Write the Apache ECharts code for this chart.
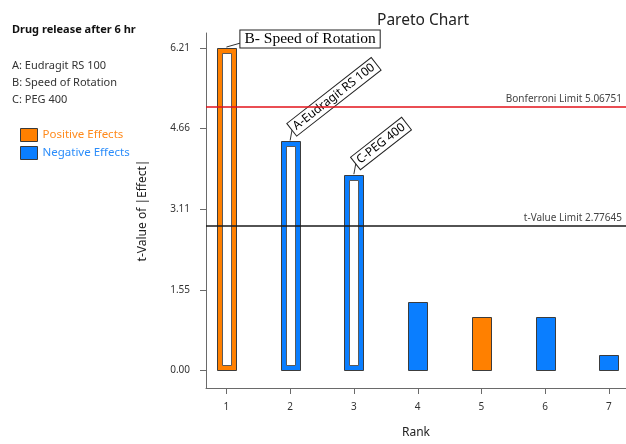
<!DOCTYPE html>
<html>
<head>
<meta charset="utf-8">
<script src="https://cdn.jsdelivr.net/npm/echarts@6/dist/echarts.min.js"></script>
<style>
  html, body { margin: 0; padding: 0; background: #fff; }
  #chart { width: 626px; height: 444px; }
</style>
</head>
<body>
<div id="chart"></div>
<script>
// Pareto chart of standardized effects (t-values), ranked by magnitude
const ranks = [1, 2, 3, 4, 5, 6, 7];
const tValues = [6.21, 4.41, 3.76, 1.31, 1.03, 1.03, 0.30];
const effectSigns = ['positive', 'negative', 'negative', 'negative', 'positive', 'negative', 'negative'];
const termLabels = ['B- Speed of Rotation', 'A-Eudragit RS 100', 'C-PEG 400', '', '', '', ''];
const yTickValues = [0, 1.55, 3.11, 4.66, 6.21];
const limitNames = ['Bonferroni Limit', 't-Value Limit'];
const limitValues = [5.06751, 2.77645];
const responseTitle = 'Drug release after 6 hr';
const factorLines = ['A: Eudragit RS 100', 'B: Speed of Rotation', 'C: PEG 400'];
const seriesNames = ['Positive Effects', 'Negative Effects'];

const X_MIN = 0.68, X_MAX = 7.27;
const Y_MIN = -0.34, Y_MAX = 6.5;

const ORANGE = '#FF8000';
const BLUE = '#0A7EFF';
const AXIS_GREY = '#6a6a6a';
const FONT = '"Noto Sans", "Open Sans", sans-serif';

function seriesData(sign) {
  const out = [];
  ranks.forEach((r, i) => { if (effectSigns[i] === sign) out.push([r, tValues[i]]); });
  return out;
}

function barRenderer(color) {
  return function (params, api) {
    const rank = api.value(0);
    const val = api.value(1);
    const top = api.coord([rank, val]);
    const base = api.coord([rank, 0]);
    const w = 19;
    const cx = top[0];
    const x0 = Math.round(cx - w / 2) + 0.5;
    const y0 = Math.round(top[1]) + 0.5;
    const y1 = Math.round(base[1]) + 0.5;
    const children = [{
      type: 'rect',
      shape: { x: x0, y: y0, width: w, height: y1 - y0 },
      style: { fill: color, stroke: '#3c3c3c', lineWidth: 1 }
    }];
    const idx = ranks.indexOf(rank);
    const label = termLabels[idx];
    if (label) {
      // significant terms are drawn hollow and annotated
      children.push({
        type: 'rect',
        shape: { x: x0 + 5, y: y0 + 5, width: w - 10, height: y1 - y0 - 10 },
        style: { fill: '#fff', stroke: '#5a5a5a', lineWidth: 1 }
      });
      const horizontal = idx === 0;
      const ax = horizontal ? cx + 14 : cx + 2;
      const ay = horizontal ? top[1] - 9 : top[1] - 12;
      children.push({
        type: 'line',
        shape: { x1: cx, y1: top[1] - 1, x2: ax, y2: horizontal ? top[1] - 5 : ay },
        style: { stroke: '#333', lineWidth: 1 }
      });
      children.push({
        type: 'text',
        x: ax,
        y: ay,
        rotation: horizontal ? 0 : 38 * Math.PI / 180,
        style: {
          text: label,
          align: 'left',
          verticalAlign: 'middle',
          font: horizontal ? '15.5px "Liberation Serif", "DejaVu Serif", serif' : '12px ' + FONT,
          fill: '#000',
          backgroundColor: '#fff',
          borderColor: '#222',
          borderWidth: 1,
          padding: horizontal ? [1, 4, 0, 4] : [2, 3, 1, 3]
        }
      });
    }
    return { type: 'group', children: children };
  };
}

// outward tick marks on both axes
function xTickRenderer(params, api) {
  const p = api.coord([api.value(0), Y_MIN]);
  const x = Math.round(p[0]) + 0.5;
  return { type: 'line', shape: { x1: x, y1: p[1], x2: x, y2: p[1] + 6 }, style: { stroke: AXIS_GREY, lineWidth: 1 } };
}
function yTickRenderer(params, api) {
  const p = api.coord([X_MIN, api.value(1)]);
  const y = Math.round(p[1]) + 0.5;
  return { type: 'line', shape: { x1: p[0] - 6, y1: y, x2: p[0], y2: y }, style: { stroke: AXIS_GREY, lineWidth: 1 } };
}

const chart = echarts.init(document.getElementById('chart'), null, { renderer: 'canvas' });

chart.setOption({
  animation: false,
  backgroundColor: '#fff',
  title: {
    text: 'Pareto Chart',
    left: 418,
    top: 8,
    textAlign: 'center',
    textStyle: { fontFamily: FONT, fontSize: 15.5, fontWeight: 'normal', color: '#222' }
  },
  legend: {
    orient: 'vertical',
    left: 15,
    top: 123,
    itemWidth: 17,
    itemHeight: 13,
    itemGap: 4,
    icon: 'rect',
    itemStyle: { borderColor: '#3a3a3a', borderWidth: 1 },
    textStyle: { fontFamily: FONT, fontSize: 11.5 },
    data: [
      { name: seriesNames[0], textStyle: { color: '#FF8A1C' } },
      { name: seriesNames[1], textStyle: { color: '#2A8CFA' } }
    ]
  },
  graphic: [
    {
      type: 'text', left: 12, top: 24,
      style: { text: responseTitle, font: 'bold 11px ' + FONT, fill: '#111' }
    },
    {
      type: 'text', left: 12, top: 57,
      style: { text: factorLines.join('\n'), font: '11px ' + FONT, fill: '#333', lineHeight: 17 }
    }
  ],
  grid: { left: 206, right: 0, top: 33, bottom: 51 },
  xAxis: {
    type: 'value',
    min: X_MIN,
    max: X_MAX,
    name: 'Rank',
    nameLocation: 'middle',
    nameGap: 39,
    nameTextStyle: { fontFamily: FONT, fontSize: 12, color: '#222' },
    axisLine: { show: true, onZero: false, lineStyle: { color: AXIS_GREY, width: 1 } },
    axisTick: { show: false },
    axisLabel: { customValues: ranks, margin: 14, fontFamily: FONT, fontSize: 10, color: '#333' },
    splitLine: { show: false }
  },
  yAxis: {
    type: 'value',
    min: Y_MIN,
    max: Y_MAX,
    name: 't-Value of |Effect|',
    nameLocation: 'middle',
    nameGap: 57,
    nameTextStyle: { fontFamily: FONT, fontSize: 12, color: '#222' },
    axisLine: { show: true, onZero: false, lineStyle: { color: AXIS_GREY, width: 1 } },
    axisTick: { show: false },
    axisLabel: {
      customValues: yTickValues, margin: 16, fontFamily: FONT, fontSize: 10, color: '#333',
      formatter: v => v.toFixed(2)
    },
    splitLine: { show: false }
  },
  series: [
    {
      name: 'limits',
      type: 'line',
      data: [],
      z: 1,
      markLine: {
        silent: true,
        symbol: 'none',
        data: limitValues.map((v, i) => ({
          yAxis: v,
          lineStyle: { color: i === 0 ? '#E3121A' : '#1a1a1a', width: 1.5, type: 'solid' },
          label: {
            position: 'insideEndTop',
            distance: [4, 3],
            formatter: limitNames[i] + ' ' + v,
            fontFamily: FONT,
            fontSize: 10,
            color: '#444'
          }
        }))
      }
    },
    {
      name: 'xTicks', type: 'custom', silent: true, z: 4,
      renderItem: xTickRenderer,
      data: ranks.map(r => [r, 0])
    },
    {
      name: 'yTicks', type: 'custom', silent: true, z: 4,
      renderItem: yTickRenderer,
      data: yTickValues.map(v => [X_MIN, v])
    },
    {
      name: seriesNames[0],
      type: 'custom',
      z: 3,
      itemStyle: { color: ORANGE },
      renderItem: barRenderer(ORANGE),
      data: seriesData('positive')
    },
    {
      name: seriesNames[1],
      type: 'custom',
      z: 3,
      itemStyle: { color: BLUE },
      renderItem: barRenderer(BLUE),
      data: seriesData('negative')
    }
  ]
});
</script>
</body>
</html>
